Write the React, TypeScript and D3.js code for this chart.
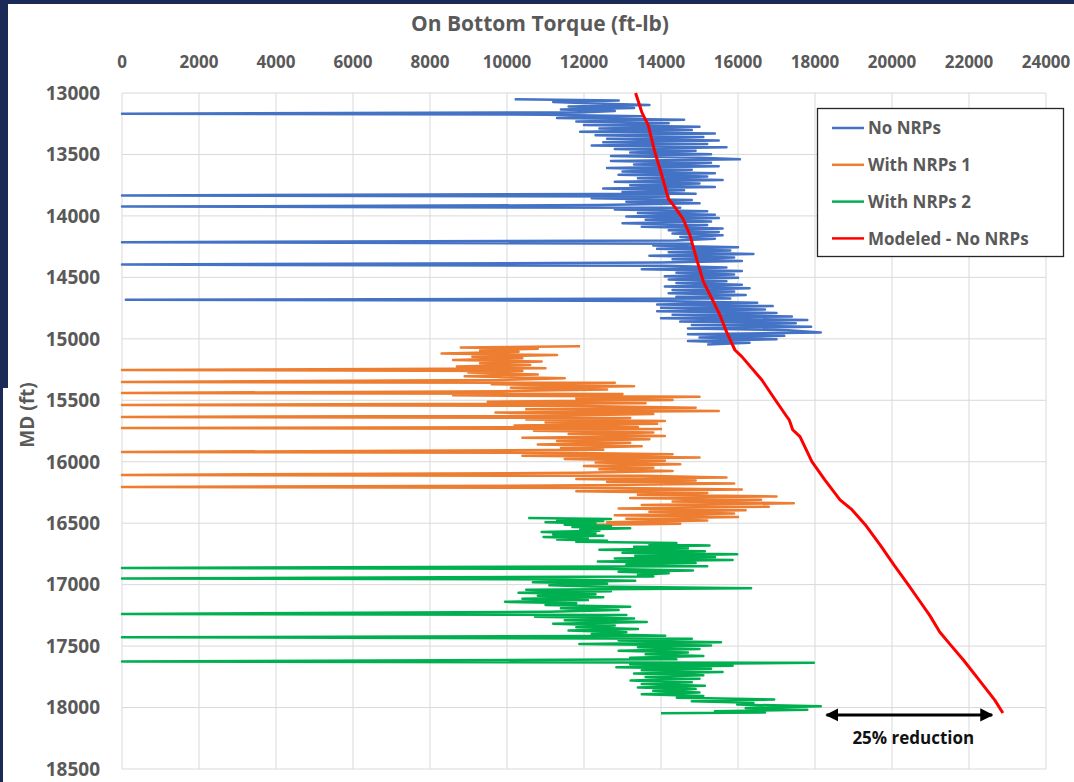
import React from 'react';
import * as d3 from 'd3';

// chart canvas
const W = 1074;
const H = 782;

const xTicks = d3.range(0, 24001, 2000);
const yTicks = d3.range(13000, 18501, 500);

// [MD (ft), torque (ft-lb)]
const noNrps: [number, number][] = [
  [13050,10200],[13062,12900],[13074,11200],[13086,12300],[13098,13700],[13110,11600],[13122,13300],[13134,11400],
  [13146,12800],[13158,11900],[13168,0],[13176,11000],[13190,13500],[13204,11300],[13218,14600],[13232,11800],
  [13246,14200],[13260,12000],[13274,15000],[13288,12400],[13302,14800],[13316,11900],[13330,15400],[13344,12300],
  [13358,15100],[13372,12600],[13386,15500],[13400,12500],[13414,15200],[13428,12200],[13442,15700],[13456,12800],
  [13470,14900],[13484,13200],[13498,15300],[13512,12700],[13526,15000],[13540,16050],[13554,12700],[13568,15300],
  [13582,13300],[13596,15500],[13610,12600],[13624,14800],[13638,13000],[13652,15400],[13666,12900],[13680,15200],
  [13694,13400],[13708,15600],[13722,12800],[13736,15000],[13750,13200],[13764,15400],[13778,12500],[13792,14600],
  [13806,13000],[13820,14900],[13834,0],[13842,14200],[13856,12200],[13870,14800],[13884,13100],[13898,15000],
  [13912,12400],[13924,0],[13934,14500],[13948,12800],[13962,15200],[13976,13400],[13990,15400],[14004,13100],
  [14018,15500],[14032,13600],[14046,15300],[14060,13000],[14074,15200],[14088,13500],[14102,15600],[14116,14200],
  [14130,15500],[14144,14300],[14158,15600],[14172,14500],[14186,15400],[14200,14400],[14214,0],[14226,14800],
  [14240,13800],[14254,16000],[14268,13900],[14282,15800],[14296,14200],[14310,16400],[14324,13700],[14338,15900],
  [14352,14300],[14366,16100],[14380,14000],[14396,0],[14406,14100],[14420,15700],[14434,13500],[14448,16100],
  [14462,14400],[14476,15900],[14490,14100],[14504,16000],[14518,14200],[14532,15700],[14546,14400],[14560,16100],
  [14574,14100],[14588,16300],[14602,14300],[14616,15900],[14630,14200],[14644,16200],[14658,14400],[14672,15800],
  [14682,100],[14692,13900],[14706,16500],[14720,13900],[14734,16900],[14748,14000],[14762,16700],[14776,13900],
  [14790,17000],[14804,14300],[14818,17400],[14832,14000],[14846,17800],[14860,14500],[14874,17500],[14888,14800],
  [14902,17900],[14916,14700],[14930,17300],[14948,18150],[14962,14700],[14976,17200],[14990,15000],[15004,17000],
  [15018,14700],[15032,16300],[15046,15200],
];

const withNrps1: [number, number][] = [
  [15060,11900],[15070,8800],[15080,10800],[15095,9300],[15105,10300],[15120,8300],[15132,11300],[15145,9100],
  [15158,10400],[15172,8600],[15185,10900],[15198,9300],[15212,10600],[15225,8700],[15240,11000],[15254,0],
  [15262,10400],[15275,9000],[15290,10800],[15305,8900],[15320,11500],[15335,9800],[15351,0],[15358,12800],
  [15370,9600],[15385,13300],[15398,10100],[15412,12600],[15426,9900],[15441,0],[15448,13000],[15460,8600],
  [15472,15000],[15485,11800],[15498,14300],[15512,9500],[15525,13600],[15538,0],[15546,12000],[15560,14900],
  [15574,10500],[15587,15500],[15600,9700],[15612,13800],[15626,11200],[15636,0],[15644,13200],[15656,10500],
  [15668,14100],[15680,11000],[15692,13900],[15706,10200],[15718,13400],[15726,0],[15734,14000],[15748,10700],
  [15762,13800],[15775,11600],[15790,14100],[15805,10400],[15818,13700],[15832,11300],[15846,13200],[15860,10800],
  [15874,13500],[15888,11400],[15902,12500],[15921,0],[15928,11800],[15940,14300],[15952,10400],[15965,15000],
  [15978,11500],[15992,14100],[16006,12300],[16020,14500],[16034,12000],[16048,13800],[16062,12400],[16076,14300],
  [16090,11900],[16108,0],[16115,13500],[16128,15700],[16140,11800],[16152,14900],[16165,12600],[16178,15900],
  [16192,12200],[16206,0],[16214,13000],[16226,16100],[16240,11800],[16254,15200],[16268,13400],[16282,17000],
  [16296,13200],[16310,16600],[16324,14300],[16338,17450],[16352,13500],[16366,16800],[16380,12900],[16394,16200],
  [16408,13700],[16422,15900],[16436,12800],[16450,16000],[16464,13100],[16478,15200],[16492,12600],[16505,14500],
  [16515,12000],
];

const withNrps2: [number, number][] = [
  [16458,10550],[16466,12700],[16474,11300],[16482,12500],[16492,11000],[16502,12300],[16512,11500],[16522,12700],
  [16532,11700],[16542,13200],[16552,11900],[16562,12400],[16572,10900],[16582,12300],[16592,11200],[16602,12500],
  [16612,10950],[16622,12100],[16632,11300],[16642,12600],[16652,11800],[16662,14400],[16672,13700],[16682,15260],
  [16692,13300],[16704,14700],[16716,12400],[16728,15140],[16740,13000],[16752,15980],[16764,13330],[16776,15400],
  [16788,12800],[16800,15860],[16812,12360],[16824,14900],[16836,13100],[16850,15200],[16864,0],[16872,12720],
  [16884,14830],[16896,12900],[16908,14200],[16920,13400],[16934,13800],[16950,0],[16958,11500],[16968,13330],
  [16980,10670],[16992,12600],[17004,11100],[17016,12200],[17030,16340],[17042,10500],[17054,12700],[17066,10300],
  [17078,12300],[17090,10800],[17102,12500],[17114,10400],[17126,12100],[17140,9950],[17152,11800],[17166,11000],
  [17180,13200],[17192,11400],[17206,12900],[17220,11100],[17238,0],[17248,13100],[17262,10730],[17276,13300],
  [17290,11500],[17304,13630],[17318,11200],[17332,12800],[17346,11800],[17360,13400],[17374,11600],[17388,13100],
  [17402,12200],[17416,14110],[17428,0],[17440,14800],[17454,12900],[17468,15560],[17482,11880],[17496,15300],
  [17510,13400],[17524,15000],[17538,12900],[17552,14700],[17566,13600],[17580,15100],[17594,13200],[17608,14400],
  [17626,0],[17636,17970],[17648,13200],[17660,15860],[17672,12840],[17684,15300],[17696,13500],[17710,15600],
  [17724,13300],[17738,15100],[17752,13600],[17766,15000],[17780,13210],[17794,14800],[17808,13500],[17822,15140],
  [17836,13400],[17850,14900],[17864,13800],[17878,15000],[17892,13500],[17906,15100],[17920,14410],[17934,16940],
  [17948,14800],[17962,16400],[17976,15980],[17990,18150],[18004,16200],[18018,17800],[18030,15400],[18040,16700],
  [18046,14000],
];

const modeled: [number, number][] = [
  [13000,13340],[13155,13500],[13263,13670],[13480,13840],[13667,14020],[13860,14190],[13928,14360],[14023,14570],
  [14155,14750],[14345,14920],[14535,15100],[14698,15360],[14806,15530],[14942,15700],[15091,15920],[15145,16100],
  [15335,16620],[15498,16970],[15634,17270],[15660,17330],[15685,17360],[15740,17420],[15796,17610],[16000,17920],
  [16150,18260],[16310,18650],[16390,18960],[16510,19300],[16680,19700],[16840,20050],[17000,20420],[17125,20700],
  [17250,20980],[17385,21240],[17490,21520],[17615,21860],[17775,22260],[17940,22670],[18044,22880],
];

const seriesNames = ['No NRPs', 'With NRPs 1', 'With NRPs 2', 'Modeled - No NRPs'];
const seriesColors = ['#4472C4', '#ED7D31', '#00B050', '#FF0000'];

// the "25% reduction" arrow, in data units
const arrowMd = 18060;
const arrowFrom = 18300;
const arrowTo = 22600;

const font = '"Open Sans", "DejaVu Sans", sans-serif';
const grey = '#595959';

const App = () => {
  const x = d3.scaleLinear().domain([0, 24000]).range([122, 1046]);
  const y = d3.scaleLinear().domain([13000, 18500]).range([93, 769]);

  const line = d3.line<[number, number]>()
    .x(d => x(d[1]))
    .y(d => y(d[0]));

  const data = [noNrps, withNrps1, withNrps2, modeled];

  return (
    <svg width={W} height={H} style={{position: 'fixed', left: 0, top: 0, display: 'block'}}>
      <defs>
        <marker id="head" viewBox="0 0 10 10" refX="9" refY="5" markerWidth="4.4" markerHeight="4.4"
          orient="auto-start-reverse" markerUnits="strokeWidth">
          <path d="M0,0 L10,5 L0,10 z" fill="#000" />
        </marker>
      </defs>

      {/* slide background and the white chart area */}
      <rect x={0} y={0} width={W} height={H} fill="#1b2a57" />
      <rect x={8} y={4} width={W - 8} height={H - 4} fill="#fff" />
      <rect x={3} y={388} width={W - 3} height={H - 388} fill="#fff" />

      {/* grid */}
      <g stroke="#d9d9d9" strokeWidth={1}>
        {xTicks.map(t => <line key={'gx' + t} x1={x(t)} x2={x(t)} y1={y(13000)} y2={y(18500)} />)}
        {yTicks.map(t => <line key={'gy' + t} x1={x(0)} x2={x(24000)} y1={y(t)} y2={y(t)} />)}
      </g>

      {/* tick labels */}
      <g fontFamily={font} fontWeight="bold" fill={grey}>
        {xTicks.map(t => (
          <text key={'tx' + t} x={x(t)} y={68} fontSize={17} textAnchor="middle">{t}</text>
        ))}
        {yTicks.map(t => (
          <text key={'ty' + t} x={100} y={y(t)} dy="0.36em" fontSize={19} textAnchor="end">{t}</text>
        ))}
        <text x={540} y={31} fontSize={21} textAnchor="middle">On Bottom Torque (ft-lb)</text>
        <text transform={`translate(34,415) rotate(-90)`} fontSize={19} textAnchor="middle">MD (ft)</text>
      </g>

      {/* series */}
      {data.map((d, i) => (
        <path key={seriesNames[i]} d={line(d) ?? ''} fill="none" stroke={seriesColors[i]}
          strokeWidth={i === 3 ? 3 : 2.5} strokeLinejoin="round" />
      ))}

      {/* legend */}
      <g fontFamily={font} fontWeight="bold" fill={grey} fontSize={17}>
        <rect x={817.5} y={108.5} width={246} height={148} fill="#fff" stroke="#262626" strokeWidth={1.3} />
        {seriesNames.map((n, i) => (
          <g key={n} transform={`translate(832,${128 + i * 36.8})`}>
            <line x1={0} x2={32} y1={0} y2={0} stroke={seriesColors[i]} strokeWidth={2.5} />
            <text x={36} y={0} dy="0.36em">{n}</text>
          </g>
        ))}
      </g>

      {/* annotation */}
      <line x1={x(arrowFrom)} x2={x(arrowTo)} y1={y(arrowMd)} y2={y(arrowMd)} stroke="#000" strokeWidth={3}
        markerStart="url(#head)" markerEnd="url(#head)" />
      <text x={(x(arrowFrom) + x(arrowTo)) / 2 + 4} y={744} fontFamily={font} fontWeight="bold" fontSize={17}
        textAnchor="middle" fill="#111">25% reduction</text>
    </svg>
  );
};

export default App;
